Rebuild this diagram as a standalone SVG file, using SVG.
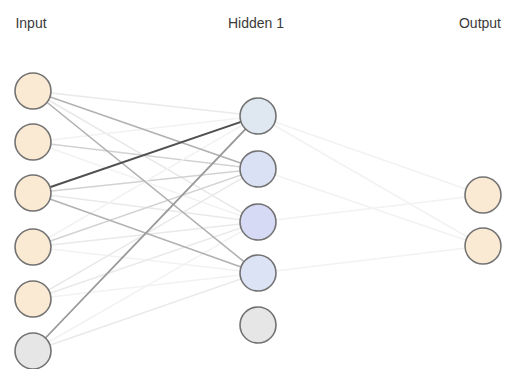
<svg xmlns="http://www.w3.org/2000/svg" width="514" height="369" viewBox="0 0 514 369">
<style>
.lbl{font-family:"Liberation Sans",Arial,sans-serif;font-size:14px;fill:#3a3a3a;text-anchor:middle}
.n{stroke:#727272;stroke-width:1.6}
.in{fill:#fbead3}
.b{fill:#e6e6e6}
.h1{fill:#dfe7f1}
.h2{fill:#dbe1f4}
.h3{fill:#d6daf4}
.h4{fill:#dce3f4}
.c line{stroke-linecap:round}
.dk{stroke:#505050;stroke-width:2}
.md{stroke:#9a9a9a;stroke-width:1.8}
.mdl{stroke:#b2b2b2;stroke-width:1.6}
.lt{stroke:#d2d2d2;stroke-width:1.5}
.ft{stroke:#e9e9e9;stroke-width:1.5}
.vf{stroke:#f2f2f2;stroke-width:1.5}
</style>
<rect width="514" height="369" fill="#fff"/>
<text class="lbl" x="31" y="28">Input</text>
<text class="lbl" x="256" y="28">Hidden 1</text>
<text class="lbl" x="480" y="28">Output</text>
<g id="connectors" class="c">
<line class="ft" x1="33" y1="91" x2="258" y2="116"/>
<line class="ft" x1="33" y1="91" x2="258" y2="222"/>
<line class="vf" x1="33" y1="142" x2="258" y2="116"/>
<line class="lt" x1="33" y1="142" x2="258" y2="169"/>
<line class="vf" x1="33" y1="142" x2="258" y2="222"/>
<line class="lt" x1="33" y1="193" x2="258" y2="169"/>
<line class="ft" x1="33" y1="193" x2="258" y2="222"/>
<line class="vf" x1="33" y1="247" x2="258" y2="116"/>
<line class="lt" x1="33" y1="247" x2="258" y2="169"/>
<line class="ft" x1="33" y1="247" x2="258" y2="222"/>
<line class="vf" x1="33" y1="247" x2="258" y2="273"/>
<line class="ft" x1="33" y1="299" x2="258" y2="169"/>
<line class="ft" x1="33" y1="299" x2="258" y2="222"/>
<line class="vf" x1="33" y1="299" x2="258" y2="273"/>
<line class="vf" x1="33" y1="351" x2="258" y2="222"/>
<line class="ft" x1="33" y1="351" x2="258" y2="273"/>
<line class="mdl" x1="33" y1="91" x2="258" y2="169"/>
<line class="mdl" x1="33" y1="91" x2="258" y2="273"/>
<line class="mdl" x1="33" y1="193" x2="258" y2="273"/>
<line class="md" x1="33" y1="351" x2="258" y2="116"/>
<line class="dk" x1="33" y1="193" x2="258" y2="116"/>
<line class="vf" x1="258" y1="116" x2="483" y2="195"/>
<line class="vf" x1="258" y1="116" x2="483" y2="246"/>
<line class="vf" x1="258" y1="169" x2="483" y2="246"/>
<line class="vf" x1="258" y1="222" x2="483" y2="195"/>
<line class="vf" x1="258" y1="273" x2="483" y2="246"/>
</g>
<g id="i1"><circle class="n in" cx="33" cy="91" r="18"/></g>
<g id="i2"><circle class="n in" cx="33" cy="142" r="18"/></g>
<g id="i3"><circle class="n in" cx="33" cy="193" r="18"/></g>
<g id="i4"><circle class="n in" cx="33" cy="247" r="18"/></g>
<g id="i5"><circle class="n in" cx="33" cy="299" r="18"/></g>
<g id="i6"><circle class="n b" cx="33" cy="351" r="18"/></g>
<g id="h1"><circle class="n h1" cx="258" cy="116" r="18"/></g>
<g id="h2"><circle class="n h2" cx="258" cy="169" r="18"/></g>
<g id="h3"><circle class="n h3" cx="258" cy="222" r="18"/></g>
<g id="h4"><circle class="n h4" cx="258" cy="273" r="18"/></g>
<g id="h5"><circle class="n b" cx="258" cy="325" r="18"/></g>
<g id="o1"><circle class="n in" cx="483" cy="195" r="18"/></g>
<g id="o2"><circle class="n in" cx="483" cy="246" r="18"/></g>
</svg>
